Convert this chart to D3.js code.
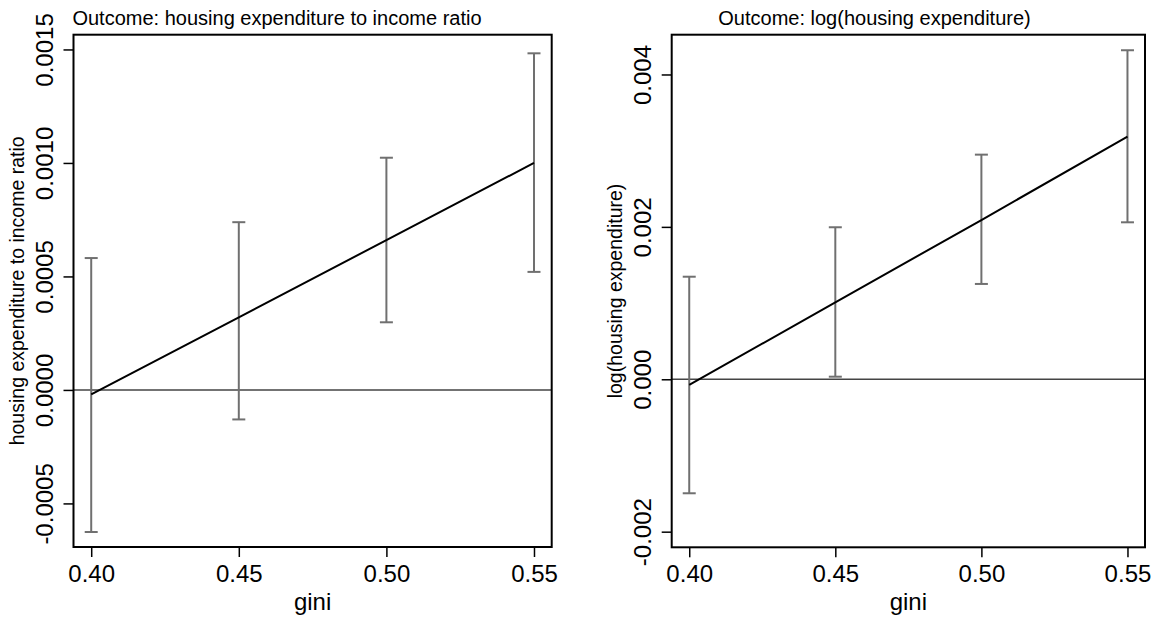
<!DOCTYPE html>
<html>
<head>
<meta charset="utf-8">
<script src="https://cdn.jsdelivr.net/npm/d3@7"></script>
<style>
  body { margin: 0; background: #fff; }
  svg { display: block; font-family: "Liberation Sans", Arial, Helvetica, sans-serif; }
</style>
</head>
<body>
<svg id="chart"></svg>
<script>
const width = 1166;
const height = 619;

// gini values where the marginal effects were evaluated
const gini = [0.40, 0.45, 0.50, 0.55];
const giniTicks = [0.40, 0.45, 0.50, 0.55];

// left panel: housing expenditure to income ratio
const ratioEst = [-0.00002, 0.00032, 0.00066, 0.00100];
const ratioLo = [-0.000626, -0.00013, 0.000298, 0.00052];
const ratioHi = [0.000581, 0.000739, 0.001023, 0.001483];
const ratioTicks = [-0.0005, 0, 0.0005, 0.0010, 0.0015];

// right panel: log(housing expenditure)
const logEst = [-0.000075, 0.00101, 0.00209, 0.003184];
const logLo = [-0.001496, 0.000034, 0.001251, 0.00206];
const logHi = [0.001346, 0.001995, 0.002948, 0.004318];
const logTicks = [-0.002, 0, 0.002, 0.004];

// plain hyphen for negative numbers, like the original
const locale = d3.formatLocale({ decimal: '.', thousands: ',', grouping: [3], currency: ['', ''], minus: '-' });

const svg = d3.select('#chart')
  .attr('width', width)
  .attr('height', height);

const panels = [
  {
    title: 'Outcome: housing expenditure to income ratio',
    ylab: 'housing expenditure to income ratio',
    est: ratioEst, lo: ratioLo, hi: ratioHi, ticks: ratioTicks, fmt: '.4f',
    ydomain: [-0.000692, 0.001565],
    left: 73.5, right: 551.7, top: 34.7, bottom: 547,
    titleX: 277
  },
  {
    title: 'Outcome: log(housing expenditure)',
    ylab: 'log(housing expenditure)',
    est: logEst, lo: logLo, hi: logHi, ticks: logTicks, fmt: '.3f',
    ydomain: [-0.002205, 0.004522],
    left: 671.7, right: 1145, top: 34.7, bottom: 547.3,
    titleX: 874.5
  }
];

function drawPanel(p) {
  const x = d3.scaleLinear().domain([0.394, 0.556]).range([p.left, p.right]);
  const y = d3.scaleLinear().domain(p.ydomain).range([p.bottom, p.top]);
  const g = svg.append('g');

  // zero reference line
  g.append('line')
    .attr('x1', p.left).attr('x2', p.right)
    .attr('y1', y(0)).attr('y2', y(0))
    .attr('stroke', '#444').attr('stroke-width', 1.6);

  // confidence intervals
  const bars = g.selectAll('.ci')
    .data(gini.map((v, i) => ({ g: v, lo: p.lo[i], hi: p.hi[i] })))
    .enter().append('g')
    .attr('class', 'ci')
    .attr('stroke', '#707070')
    .attr('stroke-width', 2);
  bars.append('line')
    .attr('x1', d => x(d.g)).attr('x2', d => x(d.g))
    .attr('y1', d => y(d.lo)).attr('y2', d => y(d.hi));
  bars.append('line')
    .attr('x1', d => x(d.g) - 6.5).attr('x2', d => x(d.g) + 6.5)
    .attr('y1', d => y(d.hi)).attr('y2', d => y(d.hi));
  bars.append('line')
    .attr('x1', d => x(d.g) - 6.5).attr('x2', d => x(d.g) + 6.5)
    .attr('y1', d => y(d.lo)).attr('y2', d => y(d.lo));

  // point estimates
  g.append('path')
    .datum(gini.map((v, i) => [v, p.est[i]]))
    .attr('fill', 'none')
    .attr('stroke', '#000')
    .attr('stroke-width', 2)
    .attr('d', d3.line().x(d => x(d[0])).y(d => y(d[1])));

  // frame
  g.append('rect')
    .attr('x', p.left).attr('y', p.top)
    .attr('width', p.right - p.left).attr('height', p.bottom - p.top)
    .attr('fill', 'none').attr('stroke', '#000').attr('stroke-width', 2);

  // x axis
  const xa = g.append('g')
    .attr('transform', `translate(0,${p.bottom})`)
    .call(d3.axisBottom(x).tickValues(giniTicks).tickFormat(locale.format('.2f')).tickSize(10));
  xa.select('.domain').remove();
  xa.selectAll('line').attr('stroke', '#000').attr('stroke-width', 1.5);
  xa.selectAll('text')
    .attr('y', 35).attr('dy', 0)
    .attr('fill', '#000')
    .style('font-size', '24px')
    .style('font-family', '"Liberation Sans", Arial, sans-serif');

  // y axis with labels parallel to the axis
  const ya = g.append('g')
    .attr('transform', `translate(${p.left},0)`)
    .call(d3.axisLeft(y).tickValues(p.ticks).tickFormat(locale.format(p.fmt)).tickSize(10));
  ya.select('.domain').remove();
  ya.selectAll('line').attr('stroke', '#000').attr('stroke-width', 1.5);
  ya.selectAll('text')
    .attr('x', 0).attr('dy', 0)
    .attr('transform', 'translate(-21,0) rotate(-90)')
    .attr('text-anchor', 'middle')
    .attr('fill', '#000')
    .style('font-size', '24px')
    .style('font-family', '"Liberation Sans", Arial, sans-serif');

  // axis titles
  g.append('text')
    .attr('x', (p.left + p.right) / 2).attr('y', 610)
    .attr('text-anchor', 'middle')
    .style('font-size', '24px')
    .text('gini');

  g.append('text')
    .attr('transform', `translate(${p.left - 50},${(p.top + p.bottom) / 2}) rotate(-90)`)
    .attr('text-anchor', 'middle')
    .style('font-size', '19.5px')
    .text(p.ylab);

  g.append('text')
    .attr('x', p.titleX).attr('y', 25)
    .attr('text-anchor', 'middle')
    .style('font-size', '20px')
    .text(p.title);
}

panels.forEach(drawPanel);
</script>
</body>
</html>
